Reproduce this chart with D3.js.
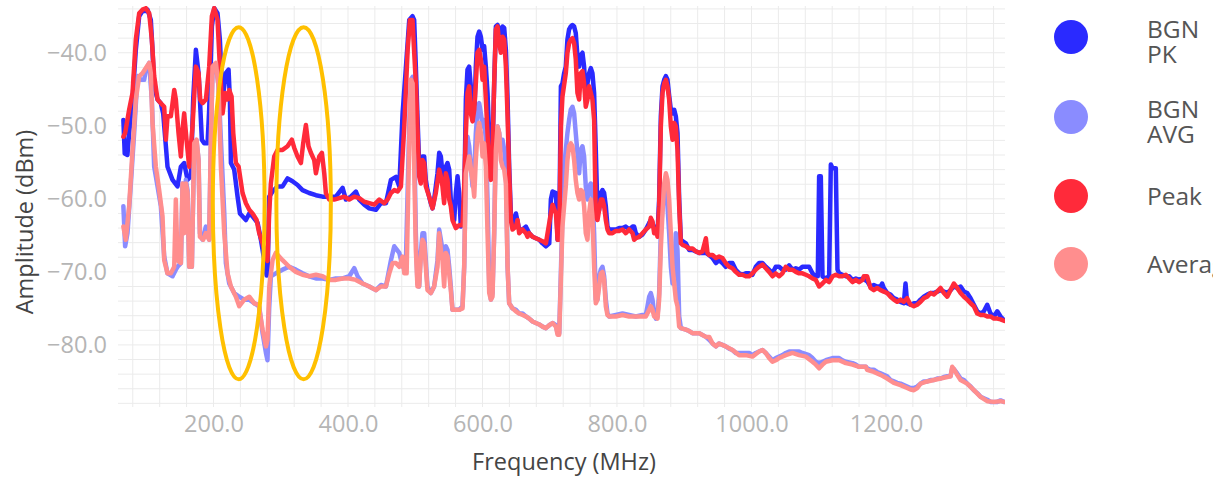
<!DOCTYPE html>
<html>
<head>
<meta charset="utf-8">
<script src="https://cdn.jsdelivr.net/npm/d3@7/dist/d3.min.js"></script>
<style>
  html, body { margin: 0; padding: 0; background: #fff; }
  svg { display: block; }
</style>
</head>
<body>
<svg id="chart" width="1213" height="478"></svg>
<script>
// spectrum readings, [frequency MHz, amplitude dBm]
var bgnPk = [[66,-49.2],[68,-53.8],[72,-54.0],[74.6,-51.0],[79.6,-46.4],[84.5,-39.6],[89.5,-35.0],[94.4,-34.3],[99.4,-34.3],[101.9,-34.1],[106.8,-35.5],[109.3,-39.6],[111.8,-44.6],[116.8,-46.4],[121.7,-46.9],[125.2,-48.3],[129.2,-52.8],[131.6,-55.6],[139.1,-57.4],[146.5,-58.3],[151.5,-55.6],[156.4,-55.1],[161.4,-57.4],[166.4,-56.9],[169.8,-46.4],[173.8,-39.6],[177.8,-42.8],[179.8,-46.4],[182.7,-51.9],[186.2,-52.4],[191.2,-52.4],[193.6,-47.8],[197.6,-36.4],[201.1,-33.9],[206,-34.6],[209.5,-38.2],[213.5,-46.4],[218.4,-42.8],[222.4,-42.3],[224.4,-46.4],[225.9,-55.1],[230.8,-56.0],[235.8,-59.7],[239.3,-62.0],[248.2,-62.9],[253.2,-62.0],[258.1,-62.4],[265.6,-63.3],[270.5,-65.6],[275.5,-68.4],[279,-70.5],[280.5,-70.3],[282.8,-59.7],[287.8,-59.0],[295.2,-58.3],[302.7,-58.3],[310.1,-57.2],[317.5,-57.6],[325,-58.1],[332.4,-58.8],[342.3,-59.2],[352.3,-59.5],[362.2,-59.7],[372.1,-59.7],[382,-59.7],[392,-58.5],[396.9,-60.1],[404.3,-59.7],[411.8,-59.0],[416.7,-60.1],[424.2,-60.8],[431.6,-61.3],[441.5,-61.5],[449,-60.6],[456.4,-60.6],[463.9,-57.4],[471.3,-57.0],[476.3,-58.3],[481.2,-48.3],[486.2,-41.9],[491.1,-35.5],[495.9,-35.0],
  [498.4,-35.5],[500.9,-41.9],[503.3,-48.7],[505.8,-55.1],[508.3,-56.0],[510.8,-54.2],[513.3,-54.2],[515.7,-57.4],[518.2,-58.8],[523.2,-60.6],[525.7,-61.3],[528.1,-60.1],[533.1,-56.5],[535.6,-53.7],[538.1,-54.2],[540.5,-56.5],[543,-58.8],[545.5,-55.6],[548,-55.1],[550.5,-56.0],[552.9,-60.1],[555.4,-62.4],[557.9,-62.9],[560.4,-59.2],[562.9,-56.9],[565.3,-59.2],[567.8,-63.8],[570.3,-63.3],[572.8,-60.1],[575.3,-46.4],[577.7,-42.3],[580.2,-41.9],[582.7,-44.6],[585.2,-48.3],[587.7,-49.2],[590.1,-41.9],[592.6,-37.8],[595.1,-37.1],[597.6,-37.8],[600.1,-39.6],[602.5,-39.1],[605,-41.9],[607.5,-45.5],[610,-51.5],[612.5,-56.5],[614.9,-53.3],[617.4,-44.2],[619.9,-36.4],[622.4,-36.2],[624.9,-36.8],[627.3,-37.3],[629.8,-36.4],[632.3,-36.6],[634.8,-39.6],[637.3,-46.4],[639.7,-55.6],[642.2,-62.0],[644.7,-63.8],[649.7,-62.0],[654.6,-64.2],[659.6,-64.2],[664.5,-63.8],[669.5,-64.7],[674.5,-65.2],[679.4,-65.4],[684.4,-65.6],[689.3,-66.1],[694.3,-66.5],[699.3,-66.1],[701.7,-60.1],[704.2,-59.0],[709.2,-59.2],[711.7,-65.6],[714.1,-64.7],[716.6,-44.6],[718.9,-44.2],
  [721.4,-42.8],[723.9,-41.9],[726.3,-38.2],[728.8,-36.8],[731.3,-36.4],[733.8,-36.2],[736.3,-36.4],[738.7,-37.3],[741.2,-40.5],[743.7,-41.9],[746.2,-40.3],[748.7,-40.0],[751.1,-41.9],[753.6,-45.5],[756.1,-44.2],[758.6,-42.8],[761.1,-42.1],[763.5,-42.8],[766,-45.5],[768.5,-53.3],[771,-61.9],[773.5,-61.5],[775.9,-59.2],[778.4,-58.8],[780.9,-59.2],[783.4,-61.0],[785.9,-63.8],[788.3,-64.2],[793.3,-64.2],[798.3,-64.2],[803.2,-64.0],[808.2,-64.0],[813.1,-63.8],[818.1,-64.2],[823.1,-63.8],[825.5,-63.8],[828,-64.7],[833,-65.2],[837.9,-64.9],[842.9,-64.2],[847.9,-63.3],[850.3,-62.9],[852.8,-63.3],[857.8,-64.7],[860.3,-64.7],[862.7,-60.1],[865.2,-48.7],[867.7,-44.6],[870.2,-43.7],[872.7,-43.2],[875.1,-43.7],[877.6,-45.9],[880.1,-47.8],[882.6,-48.3],[885.1,-47.8],[887.5,-48.7],[890,-51.0],[892.5,-60.1],[895,-65.6],[897.5,-65.8],[902.4,-66.1],[907.4,-67.0],[912.3,-67.0],[917.3,-67.2],[922.3,-67.4],[927.2,-67.4],[932.2,-67.4],[937.1,-67.7],[942.1,-68.1],[947.1,-68.8],
  [951.8,-68.4],[956.8,-68.8],[961.7,-69.3],[966.7,-68.8],[971.7,-68.8],[976.6,-69.7],[981.6,-70.2],[986.5,-70.4],[991.5,-70.2],[996.5,-70.2],[1001.4,-70.4],[1006.4,-69.3],[1011.3,-68.8],[1016.3,-68.8],[1021.3,-69.3],[1026.2,-69.7],[1031.2,-70.2],[1036.1,-69.3],[1041.1,-69.3],[1046.1,-69.7],[1051,-69.7],[1056,-69.1],[1060.9,-69.7],[1065.9,-69.5],[1070.9,-69.7],[1075.8,-69.3],[1080.8,-69.3],[1085.7,-69.3],[1090.7,-70.2],[1095.7,-70.6],[1098.6,-70.6],[1100.6,-56.9],[1103.1,-56.9],[1105.6,-70.6],[1110.5,-70.9],[1115.5,-70.6],[1118,-55.3],[1120.5,-55.8],[1125.4,-55.8],[1127.9,-69.7],[1130.4,-70.2],[1135.3,-70.4],[1140.3,-70.6],[1145.3,-70.6],[1150.2,-71.1],[1155.2,-70.9],[1160.1,-71.1],[1165.1,-70.9],
  [1172,-71.3],[1177,-72.0],[1181.9,-71.8],[1186.9,-72.0],[1191.9,-72.0],[1194.3,-71.6],[1196.8,-72.2],[1201.8,-72.9],[1206.7,-73.1],[1211.7,-73.6],[1216.7,-73.8],[1221.6,-74.1],[1226.6,-74.3],[1229.1,-71.6],[1231.5,-74.3],[1236.5,-74.5],[1241.5,-74.3],[1246.4,-74.3],[1251.4,-73.8],[1256.3,-73.4],[1261.3,-73.1],[1266.3,-72.9],[1271.2,-72.9],[1276.2,-72.7],[1281.1,-72.5],[1286.1,-72.7],[1291.1,-72.9],[1296,-72.5],[1301,-72.0],[1305.9,-72.2],[1310.9,-72.0],[1315.9,-72.7],[1320.8,-72.9],[1325.8,-73.6],[1330.7,-74.5],[1335.7,-75.4],[1340.7,-75.7],[1345.6,-75.4],[1350.6,-74.5],[1355.5,-75.7],[1360.5,-76.1],[1365.5,-75.4],[1370.4,-76.1],[1375.4,-76.6]];

var bgnAvg = [[66,-61.0],[68.6,-66.5],[72.1,-64.7],[77.1,-57.9],[82,-51.0],[87,-43.2],[92,-43.7],[96.9,-43.7],[99.4,-42.3],[104.4,-41.4],[108.3,-46.4],[111.8,-55.6],[116.8,-58.3],[121.7,-61.0],[126.7,-67.9],[131.6,-70.2],[139.1,-70.6],[144,-69.7],[146.5,-69.3],[151.5,-68.8],[154,-57.9],[156.4,-64],[158.9,-57.4],[161.4,-58.8],[163.9,-69.3],[167.8,-69.3],[171.3,-52.4],[174.8,-52.0],[177.8,-54.7],[179.8,-64.7],[183.7,-65.6],[188.7,-63.8],[193.6,-65.6],[196.1,-52.0],[198.6,-42.3],[203.6,-41.6],[207.5,-44.6],[211,-51.9],[216,-62.0],[218.4,-68.8],[223.4,-71.6],[230.8,-72.9],[238.3,-73.4],[245.7,-73.8],[253.2,-73.8],[260.6,-74.3],[268,-74.7],[273,-78.4],[278,-81.1],[280.3,-82.1],[282.8,-75],[285.3,-70.6],
  [292.7,-70.2],[302.7,-69.7],[312.6,-69.3],[322.5,-69.7],[332.4,-70.2],[342.3,-70.6],[352.3,-70.9],[362.2,-70.9],[372.1,-71.1],[382,-70.9],[392,-70.9],[401.9,-70.6],[409.3,-69.5],[414.3,-70.6],[421.7,-71.6],[431.6,-72.0],[441.5,-72.5],[449,-71.8],[456.4,-72.0],[463.9,-68.4],[468.8,-66.5],[476.3,-67.4],[481.2,-69.3],[486.2,-68.4],[491.1,-50],[493.6,-43.7],[496.1,-43.3],
  [498.4,-51.0],[500.9,-64.7],[503.3,-71.6],[505.8,-72.0],[508.3,-67.4],[510.8,-64.7],[513.3,-64.7],[515.7,-68.4],[518.2,-72.0],[523.2,-72.9],[528.1,-72.0],[533.1,-68.4],[535.6,-64.2],[538.1,-65.6],[540.5,-67.0],[543,-68.8],[545.5,-66.5],[548,-67.0],[550.5,-69.3],[552.9,-72.0],[555.4,-75.2],[565.3,-75.2],[570.3,-74.7],[572.8,-69.3],[575.3,-55.6],[577.7,-51.5],[580.2,-52.8],[582.7,-55.6],[585.2,-58.3],[587.7,-56.5],[590.1,-51.0],[592.6,-47.8],[595.1,-46.9],[597.6,-48.3],[600.1,-50.1],[602.5,-49.2],[605,-51.9],[607.5,-60.1],[610,-71.6],[612.5,-73.8],[614.9,-72.9],[617.4,-64.7],[619.9,-51.0],[622.4,-50.1],[624.9,-51.0],[627.3,-53.3],[629.8,-51.9],[632.3,-53.3],[634.8,-55.6],[637.3,-69.3],[639.7,-74.3],[644.7,-75.0],[649.7,-75.2],[654.6,-75.7],[659.6,-75.7],[664.5,-76.1],[669.5,-76.4],[674.5,-76.8],[679.4,-77.0],[684.4,-77.2],[689.3,-77.5],[694.3,-77.7],[699.3,-77.3],[704.2,-77.0],[709.2,-77.3],[711.7,-78.4],[714.1,-78.4],[716.6,-70],[718.9,-62.0],
  [721.4,-55.6],[723.9,-53.3],[726.3,-51.0],[728.8,-49.2],[731.3,-47.8],[733.8,-47.4],[736.3,-48.3],[738.7,-51.0],[741.2,-53.7],[743.7,-56.5],[746.2,-53.3],[748.7,-52.8],[751.1,-54.2],[753.6,-58.3],[756.1,-60.1],[758.6,-58.3],[761.1,-57.9],[763.5,-59.2],[766,-64.7],[768.5,-73.8],[771,-73.8],[773.5,-70.6],[775.9,-69.7],[778.4,-69.3],[780.9,-70.6],[783.4,-73.8],[785.9,-75.7],[788.3,-76.1],[798.3,-75.9],[808.2,-75.7],[818.1,-75.9],[828,-76.1],[837.9,-75.9],[842.9,-75.9],[845.4,-74.7],[847.9,-73.4],[850.3,-72.9],[852.8,-73.8],[855.3,-75.7],[857.8,-76.4],[860.3,-76.1],[862.7,-72.9],[865.2,-64.7],[867.7,-61.0],[870.2,-58.3],[872.7,-59.2],[875.1,-61.0],[877.6,-64.7],[880.1,-69.3],[882.6,-71.6],[885.1,-70.2],[887.5,-64.7],[890,-67.0],[892.5,-76.1],[895,-77.7],[902.4,-77.9],[907.4,-78.1],[912.3,-78.4],[922.3,-78.4],[932.2,-78.9],[937.1,-79.3],[942.1,-79.8],[947.1,-80.2],
  [951.8,-79.8],[956.8,-80.0],[961.7,-80.2],[966.7,-80.5],[971.7,-80.7],[976.6,-81.1],[986.5,-81.1],[996.5,-81.1],[1001.4,-81.4],[1006.4,-81.1],[1011.3,-80.9],[1016.3,-80.7],[1021.3,-81.1],[1026.2,-81.6],[1031.2,-82.1],[1036.1,-81.8],[1041.1,-81.6],[1046.1,-81.4],[1051,-81.1],[1056,-80.9],[1070.9,-80.9],[1075.8,-81.1],[1085.7,-81.4],[1090.7,-81.8],[1095.7,-82.3],[1100.6,-82.5],[1105.6,-82.3],[1110.5,-82.1],[1120.5,-81.8],[1130.4,-81.8],[1135.3,-82.1],[1140.3,-82.3],[1150.2,-82.5],[1155.2,-82.7],[1160.1,-83.0],[1170.1,-83.0],
  [1172,-83.2],[1177,-83.4],[1181.9,-83.4],[1186.9,-83.7],[1191.9,-83.9],[1196.8,-84.1],[1201.8,-84.3],[1206.7,-84.8],[1211.7,-85.0],[1216.7,-85.2],[1221.6,-85.3],[1226.6,-85.5],[1231.5,-85.7],[1236.5,-85.9],[1241.5,-85.9],[1246.4,-85.7],[1251.4,-85.3],[1256.3,-85.0],[1261.3,-85.0],[1266.3,-84.8],[1271.2,-84.8],[1276.2,-84.6],[1281.1,-84.6],[1286.1,-84.4],[1291.1,-84.3],[1296,-84.3],[1298.5,-83.2],[1301,-83.3],[1305.9,-83.9],[1310.9,-84.6],[1315.9,-84.8],[1320.8,-85.3],[1325.8,-85.7],[1330.7,-86.2],[1335.7,-86.6],[1340.7,-87.1],[1345.6,-87.3],[1350.6,-87.5],[1355.5,-87.8],[1365.5,-87.8],[1370.4,-87.6],[1375.4,-87.8]];

var peak = [[66,-51.5],[68.6,-51.0],[74.6,-47.8],[79.6,-45.5],[84.5,-38.2],[89.5,-34.6],[94.4,-34.1],[99.4,-33.9],[104.4,-34.6],[108.3,-38.2],[111.8,-43.2],[116.8,-46.4],[121.7,-46.9],[126.7,-47.4],[129.2,-51.9],[131.6,-48.7],[136.6,-48.7],[141.6,-45.1],[144,-46.4],[148,-51.0],[151.5,-54.2],[154,-50.5],[156.4,-48.3],[159.9,-51.9],[163.9,-55.6],[168.8,-50.1],[173.8,-41.9],[177.8,-42.8],[180.2,-46.4],[183.7,-46.9],[188.7,-46.4],[193.6,-41.9],[197.6,-35.0],[201.1,-33.9],[206,-35.5],[209.5,-41.9],[213.5,-48.3],[217.4,-45.5],[220.9,-46.4],[223.4,-45.1],[226.9,-46.0],[229.4,-51.0],[233.3,-55.1],[237.3,-55.6],[243.2,-59.2],[248.2,-60.6],[253.2,-61.5],[258.1,-62.0],[264.1,-62.9],[268,-64.7],[273,-66.1],[278,-67.9],
  [280.3,-68.5],[282.8,-62],[285.3,-57.9],[290.3,-54.2],[295.2,-53.3],[302.7,-53.3],[310.1,-52.8],[316.5,-51.9],[320,-53.0],[325,-54.2],[330,-55.1],[333.4,-52.4],[337.4,-49.9],[341.3,-52.8],[344.8,-53.7],[349.8,-54.7],[352.3,-56.5],[357.2,-54.2],[361.2,-53.7],[364.7,-56.5],[367.1,-59.2],[372.1,-60.1],[379.5,-60.1],[387,-59.9],[394.4,-59.7],[401.9,-60.1],[409.3,-59.7],[416.7,-59.9],[424.2,-60.4],[431.6,-60.6],[439.1,-60.8],[446.5,-60.1],[453.9,-60.6],[458.9,-60.1],[463.9,-59.2],[468.8,-58.8],[473.8,-59.0],[478.7,-58.3],[483.7,-50.1],[488.7,-39.6],[492.1,-35.5],[495.9,-35.5],
  [500.9,-44.2],[505.8,-56.9],[508.3,-57.9],[510.8,-54.7],[513.3,-55.1],[515.7,-58.3],[520.7,-59.7],[525.7,-61.3],[530.6,-59.2],[535.6,-56.0],[538.1,-56.9],[540.5,-58.3],[543,-60.6],[545.5,-56.5],[548,-57.4],[550.5,-60.1],[552.9,-61.0],[555.4,-62.9],[560.4,-64.0],[565.3,-63.6],[570.3,-63.6],[572.8,-58.3],[575.3,-51.0],[577.7,-45.5],[580.2,-44.6],[582.7,-48.3],[585.2,-49.4],[587.7,-47.8],[590.1,-44.2],[592.6,-40.0],[595.1,-39.6],[597.6,-40.9],[600.1,-43.7],[602.5,-41.9],[605,-46.4],[607.5,-51.0],[610,-56.5],[612.5,-57.4],[614.9,-53.3],[617.4,-44.2],[619.9,-36.8],[622.4,-36.4],[624.9,-38.7],[627.3,-40.0],[629.8,-37.8],[632.3,-38.2],[634.8,-41.9],[637.3,-48.7],[639.7,-56.5],[642.2,-62.9],[644.7,-64.2],[649.7,-63.8],[652.1,-62.9],[654.6,-64.7],[659.6,-64.2],[664.5,-64.7],[667,-65.2],[669.5,-64.7],[674.5,-65.2],[679.4,-65.4],[684.4,-65.6],[689.3,-65.8],[694.3,-66.1],[696.8,-64.7],[701.7,-62.0],[704.2,-60.8],[709.2,-62.0],[711.7,-65.6],[714.1,-65.6],[716.6,-50.1],[718.9,-46.0],
  [723.9,-42.8],[726.3,-40.0],[728.8,-38.7],[731.3,-38.2],[733.8,-38.0],[736.3,-38.7],[738.7,-40.9],[741.2,-45.5],[743.7,-46.4],[746.2,-42.8],[748.7,-42.5],[751.1,-44.2],[753.6,-47.4],[756.1,-46.4],[758.6,-44.6],[761.1,-45.5],[763.5,-46.4],[766,-49.2],[768.5,-62.4],[771,-62.9],[773.5,-61.5],[775.9,-60.1],[778.4,-60.1],[780.9,-61.0],[783.4,-62.9],[785.9,-64.2],[788.3,-64.7],[793.3,-64.7],[798.3,-64.4],[803.2,-64.4],[808.2,-64.2],[813.1,-64.7],[818.1,-64.2],[823.1,-64.7],[825.5,-65.6],[828,-65.4],[833,-65.2],[837.9,-64.7],[842.9,-64.2],[847.9,-63.8],[850.3,-62.6],[852.8,-63.1],[855.3,-64.7],[857.8,-64.2],[860.3,-65.2],[862.7,-61.0],[865.2,-50.1],[867.7,-45.5],[870.2,-44.2],[872.7,-43.7],[875.1,-44.6],[877.6,-46.4],[880.1,-50.1],[882.6,-51.9],[885.1,-49.6],[887.5,-50.1],[890,-53.3],[892.5,-61.0],[895,-66.1],[897.5,-66.3],[902.4,-66.5],[907.4,-66.8],[912.3,-66.8],[917.3,-67.2],[922.3,-67.4],[927.2,-67.2],[932.2,-65.4],[934.6,-67.4],[937.1,-67.7],[942.1,-67.7],[947.1,-68.1],
  [951.8,-67.9],[956.8,-68.1],[961.7,-68.8],[966.7,-69.3],[971.7,-69.5],[976.6,-70.0],[981.6,-70.4],[986.5,-70.4],[991.5,-70.6],[996.5,-70.6],[1001.4,-70.2],[1006.4,-69.7],[1011.3,-69.3],[1016.3,-69.0],[1021.3,-69.5],[1026.2,-70.0],[1031.2,-70.6],[1036.1,-70.2],[1041.1,-70.6],[1046.1,-70.2],[1051,-69.3],[1056,-69.7],[1060.9,-69.7],[1065.9,-70.0],[1070.9,-70.2],[1075.8,-70.2],[1080.8,-70.4],[1085.7,-70.6],[1090.7,-70.9],[1095.7,-71.1],[1100.6,-72.0],[1105.6,-71.6],[1110.5,-71.1],[1115.5,-71.4],[1120.5,-70.6],[1125.4,-70.4],[1130.4,-70.6],[1135.3,-70.6],[1140.3,-70.4],[1145.3,-70.9],[1150.2,-71.4],[1155.2,-71.1],[1160.1,-71.4],[1165.1,-71.1],
  [1167.1,-70.6],[1172,-70.6],[1177,-72.2],[1181.9,-72.5],[1186.9,-72.2],[1191.9,-72.5],[1196.8,-72.7],[1201.8,-72.9],[1206.7,-73.4],[1211.7,-73.8],[1216.7,-74.1],[1221.6,-73.8],[1226.6,-74.1],[1231.5,-73.6],[1236.5,-74.5],[1241.5,-74.7],[1246.4,-74.5],[1251.4,-74.1],[1256.3,-73.6],[1261.3,-73.4],[1266.3,-72.9],[1271.2,-73.1],[1276.2,-72.7],[1281.1,-72.2],[1286.1,-72.9],[1291.1,-73.4],[1296,-72.5],[1301,-71.6],[1305.9,-72.2],[1310.9,-72.9],[1315.9,-73.4],[1320.8,-73.8],[1325.8,-74.3],[1330.7,-74.7],[1335.7,-75.7],[1340.7,-75.9],[1345.6,-75.9],[1350.6,-76.1],[1355.5,-76.1],[1360.5,-76.4],[1365.5,-76.4],[1370.4,-76.5],[1375.4,-76.7]];

var average = [[66,-63.8],[69.6,-65.6],[74.6,-61.0],[79.6,-53.3],[84.5,-46.4],[89.5,-43.2],[94.4,-42.8],[99.4,-42.1],[104.4,-41.4],[106.8,-42.8],[109.3,-49.6],[114.3,-55.6],[119.2,-58.8],[124.2,-62.4],[126.7,-68.4],[131.6,-70.2],[136.6,-70.2],[141.6,-69.3],[144,-60.1],[146.5,-68.4],[151.5,-68.8],[154,-57.9],[156.4,-64.7],[158.9,-57.9],[161.4,-59.2],[163.9,-69.3],[167.8,-69.3],[171.3,-52.4],[174.8,-51.9],[177.8,-54.7],[179.8,-65.2],[184.7,-65.6],[188.7,-64.7],[193.6,-65.6],[196.1,-52],[198.6,-41.9],[203.6,-41.4],[207.5,-44.6],[211,-55.6],[216,-64.7],[220.9,-70.2],[225.9,-72.0],[233.3,-73.4],[238.3,-74.7],[245.7,-73.8],[253.2,-73.4],[260.6,-74.3],[267.1,-74.5],[273,-77.9],[278,-80.2],[280.3,-79.3],[283,-72],[287.8,-68.4],[292.7,-67.4],
  [302.7,-68.4],[312.6,-69.3],[322.5,-70.0],[332.4,-70.4],[342.3,-70.6],[352.3,-70.4],[362.2,-70.6],[372.1,-71.1],[382,-71.1],[392,-70.9],[401.9,-70.9],[411.8,-71.1],[421.7,-71.6],[431.6,-72.0],[441.5,-72.5],[449,-72.0],[456.4,-72.0],[461.4,-70.2],[466.3,-68.8],[471.3,-68.8],[476.3,-69.3],[481.2,-67.9],[483.7,-70.2],[487.2,-70.2],[491.1,-52],[493.6,-43.7],[496.1,-44.2],
  [498.4,-55.6],[500.9,-67.0],[503.3,-72.0],[505.8,-72.0],[508.3,-67.9],[510.8,-65.6],[513.3,-66.1],[515.7,-69.3],[518.2,-72.5],[523.2,-72.9],[528.1,-72.0],[533.1,-69.3],[535.6,-64.7],[538.1,-67.0],[540.5,-68.4],[543,-72.0],[545.5,-67.4],[548,-67.9],[550.5,-70.2],[552.9,-72.5],[555.4,-75.2],[565.3,-75.2],[570.3,-75.0],[572.8,-69.3],[575.3,-56.5],[580.2,-54.2],[585.2,-57.4],[587.7,-59.7],[590.1,-54.7],[592.6,-51.0],[595.1,-49.6],[597.6,-51.0],[600.1,-54.2],[602.5,-52.4],[605,-55.6],[607.5,-64.7],[610,-72.9],[612.5,-73.8],[614.9,-73.4],[617.4,-64.7],[619.9,-53.3],[622.4,-50.1],[624.9,-51.0],[627.3,-54.7],[629.8,-55.6],[632.3,-56.0],[634.8,-57.9],[637.3,-69.3],[639.7,-74.3],[644.7,-75.0],[649.7,-75.4],[654.6,-75.7],[659.6,-75.9],[664.5,-76.1],[669.5,-76.4],[674.5,-76.8],[679.4,-77.0],[684.4,-77.2],[689.3,-77.5],[694.3,-77.7],[699.3,-77.3],[704.2,-77.0],[709.2,-77.5],[711.7,-78.6],[714.1,-78.6],[716.6,-71],[718.9,-63.8],
  [721.4,-61.0],[723.9,-58.3],[726.3,-54.7],[728.8,-52.8],[731.3,-52.4],[733.8,-52.8],[736.3,-54.7],[738.7,-57.4],[741.2,-59.2],[743.7,-60.1],[746.2,-58.8],[748.7,-59.0],[751.1,-61.0],[753.6,-64.7],[756.1,-65.6],[758.6,-61.9],[761.1,-60.1],[763.5,-62.4],[766,-69.3],[768.5,-74.3],[771,-73.8],[773.5,-72.0],[775.9,-70.2],[778.4,-70.0],[780.9,-71.1],[783.4,-74.7],[785.9,-75.9],[788.3,-76.1],[798.3,-76.1],[808.2,-75.9],[818.1,-76.1],[828,-76.1],[837.9,-76.1],[842.9,-76.1],[847.9,-75.2],[850.3,-74.7],[852.8,-75.2],[855.3,-76.1],[860.3,-76.4],[862.7,-73.8],[865.2,-66.8],[867.7,-61.9],[870.2,-57.9],[872.7,-56.5],[875.1,-57.4],[877.6,-60.1],[880.1,-64.7],[882.6,-69.3],[885.1,-71.6],[887.5,-73.8],[890,-74.7],[892.5,-77.5],[895,-77.7],[902.4,-77.9],[907.4,-78.1],[912.3,-78.4],[922.3,-78.4],[932.2,-78.9],[937.1,-78.9],[942.1,-79.8],[947.1,-80.2],
  [951.8,-79.8],[961.7,-80.2],[971.7,-80.7],[981.6,-81.4],[991.5,-81.4],[1001.4,-81.6],[1011.3,-80.9],[1016.3,-80.7],[1021.3,-81.1],[1026.2,-81.8],[1031.2,-82.3],[1036.1,-82.1],[1041.1,-81.8],[1051,-81.4],[1060.9,-81.1],[1070.9,-81.4],[1080.8,-81.6],[1090.7,-82.3],[1095.7,-82.7],[1100.6,-83.2],[1105.6,-82.7],[1110.5,-82.3],[1120.5,-82.1],[1130.4,-82.1],[1140.3,-82.5],[1150.2,-82.7],[1160.1,-83.0],[1170.1,-83.0],
  [1172,-83.4],[1181.9,-83.7],[1191.9,-84.1],[1201.8,-84.6],[1211.7,-85.2],[1221.6,-85.5],[1231.5,-85.9],[1236.5,-86.1],[1241.5,-86.2],[1246.4,-85.9],[1251.4,-85.3],[1261.3,-85.0],[1271.2,-84.8],[1281.1,-84.6],[1291.1,-84.4],[1296,-84.3],[1298.5,-83.0],[1301,-83.3],[1305.9,-84.1],[1310.9,-84.8],[1320.8,-85.3],[1330.7,-86.2],[1340.7,-87.1],[1350.6,-87.7],[1360.5,-87.8],[1370.4,-87.7],[1375.4,-87.8]];

var seriesNames = ["BGN PK", "BGN AVG", "Peak", "Average"];
var seriesColors = ["#2a2aff", "#8a8cff", "#ff2a3a", "#ff8e8e"];
var xTicks = [200, 400, 600, 800, 1000, 1200];
var yTicks = [-40, -50, -60, -70, -80];
// highlighted regions: centre frequency, centre level, half widths
var highlights = [[237.5, -60.6, 38.5, 24.1], [334, -60.6, 40.5, 24.1]];

var svg = d3.select("#chart");
var font = "'Open Sans', 'DejaVu Sans', sans-serif";
var plotLeft = 118, plotRight = 1005, plotTop = 6, plotBottom = 407;

var x = d3.scaleLinear().domain([58, 1377]).range([plotLeft, plotRight]);
var y = d3.scaleLinear().domain([-88.5, -33.6]).range([plotBottom, plotTop]);

svg.append("defs").append("clipPath").attr("id", "plotclip")
  .append("rect").attr("x", plotLeft).attr("y", plotTop)
  .attr("width", plotRight - plotLeft).attr("height", plotBottom - plotTop);

// grid
var grid = svg.append("g").attr("class", "grid");
grid.selectAll("line.v").data(d3.range(80, 1377, 40)).enter().append("line")
  .attr("x1", function (d) { return x(d); }).attr("x2", function (d) { return x(d); })
  .attr("y1", plotTop).attr("y2", plotBottom)
  .style("stroke", "#ebebeb").style("stroke-width", 1);
grid.selectAll("line.h").data(d3.range(-88, -33.9, 2)).enter().append("line")
  .attr("x1", plotLeft).attr("x2", plotRight)
  .attr("y1", function (d) { return y(d); }).attr("y2", function (d) { return y(d); })
  .style("stroke", "#ebebeb").style("stroke-width", 1);

// axes
var xAxis = svg.append("g").attr("transform", "translate(0," + plotBottom + ")")
  .call(d3.axisBottom(x).tickValues(xTicks).tickFormat(d3.format(".1f")).tickSize(0).tickPadding(8));
var yAxis = svg.append("g").attr("transform", "translate(" + (plotLeft - 11) + ",0)")
  .call(d3.axisLeft(y).tickValues(yTicks).tickFormat(d3.format(".1f")).tickSize(0).tickPadding(0));
[xAxis, yAxis].forEach(function (a) {
  a.select(".domain").remove();
  a.selectAll("text").style("font-family", font).style("font-size", "23.5px").style("fill", "#b5b5b5");
});

svg.append("text").attr("x", 564).attr("y", 470).attr("text-anchor", "middle")
  .style("font-family", font).style("font-size", "23.5px").style("fill", "#444")
  .text("Frequency (MHz)");
svg.append("text").attr("transform", "translate(33,222) rotate(-90)").attr("text-anchor", "middle")
  .style("font-family", font).style("font-size", "23.5px").style("fill", "#444")
  .text("Amplitude (dBm)");

// series
var line = d3.line()
  .x(function (d) { return x(d[0]); })
  .y(function (d) { return y(d[1]); });
var plot = svg.append("g").attr("clip-path", "url(#plotclip)");
[bgnPk, bgnAvg, peak, average].forEach(function (s, i) {
  plot.append("path").datum(s)
    .attr("d", line)
    .style("fill", "none")
    .style("stroke", seriesColors[i])
    .style("stroke-width", 4.5)
    .style("stroke-linejoin", "round")
    .style("stroke-linecap", "round");
});

// annotation ellipses
svg.selectAll("ellipse.hl").data(highlights).enter().append("ellipse")
  .attr("cx", function (d) { return x(d[0]); })
  .attr("cy", function (d) { return y(d[1]); })
  .attr("rx", function (d) { return x(d[0] + d[2]) - x(d[0]); })
  .attr("ry", function (d) { return y(d[1]) - y(d[1] + d[3]); })
  .style("fill", "none").style("stroke", "#ffc000").style("stroke-width", 4);

// legend
var legendY = [37, 117, 196, 264];
var legendLines = [["BGN", "PK"], ["BGN", "AVG"], ["Peak"], ["Average"]];
var legend = svg.selectAll("g.legend").data(seriesNames).enter().append("g")
  .attr("transform", function (d, i) { return "translate(1071," + legendY[i] + ")"; });
legend.append("circle").attr("r", 17).style("fill", function (d, i) { return seriesColors[i]; });
legend.append("text")
  .style("font-family", font).style("font-size", "24.5px").style("fill", "#555")
  .each(function (d, i) {
    var t = d3.select(this), ls = legendLines[i];
    ls.forEach(function (w, j) {
      t.append("tspan").attr("x", 76)
        .attr("y", ls.length == 1 ? 9 : (j == 0 ? 1 : 26))
        .text(w);
    });
  });
</script>
</body>
</html>
